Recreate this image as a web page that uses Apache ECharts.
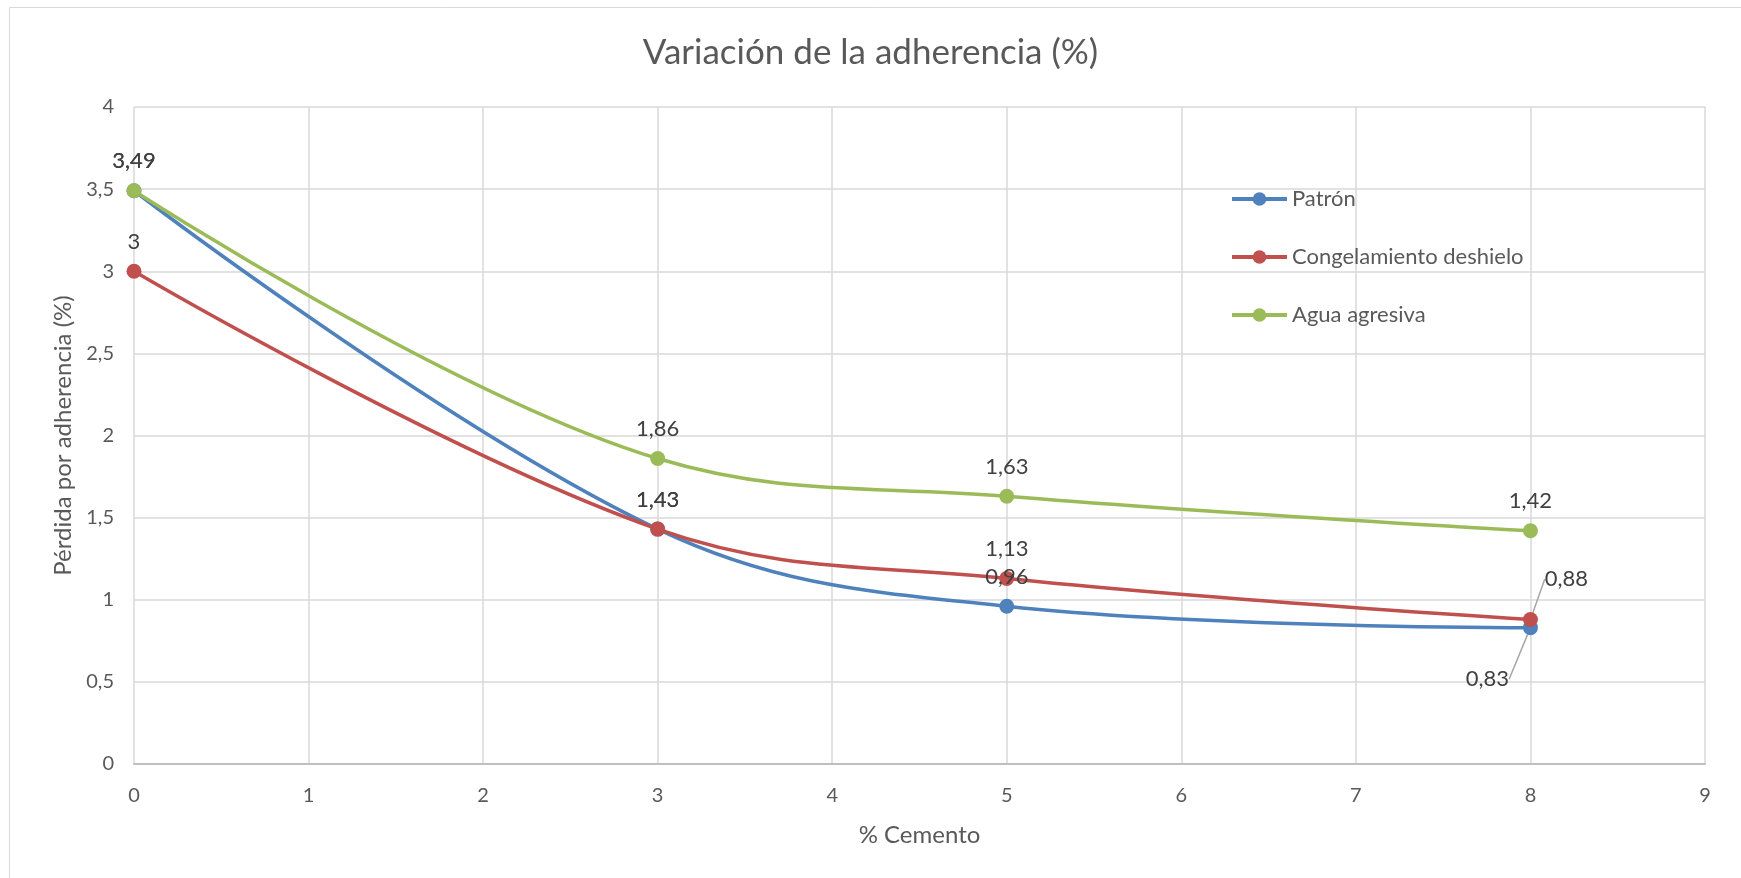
<!DOCTYPE html>
<html>
<head>
<meta charset="utf-8">
<script src="https://fastly.jsdelivr.net/npm/echarts@6/dist/echarts.min.js"></script>
<style>
  html, body { margin: 0; padding: 0; background: #fff; }
  #root { width: 1741px; height: 878px; }
</style>
</head>
<body>
<div id="root"></div>
<script>
// data
const cemento = [0, 3, 5, 8]
const patron = [3.49, 1.43, 0.96, 0.83]
const congelamiento = [3, 1.43, 1.13, 0.88]
const agua = [3.49, 1.86, 1.63, 1.42]
const seriesNames = ['Patrón', 'Congelamiento deshielo', 'Agua agresiva']
const colors = ['#4F81BD', '#C0504D', '#9BBB59']

const font = 'Lato, "Open Sans", sans-serif'
const comma = v => String(v).replace('.', ',')

function pairs (ys) {
  return cemento.map((x, i) => [x, ys[i]])
}

function makeSeries (name, ys, color, moveLabel) {
  return {
    name: name,
    type: 'line',
    smooth: 0.38,
    data: pairs(ys),
    symbol: 'circle',
    symbolSize: 15,
    lineStyle: { width: 3.5, color: color },
    itemStyle: { color: color },
    label: {
      show: true,
      position: 'top',
      distance: 11,
      fontFamily: font,
      fontSize: 22,
      color: '#404040',
      formatter: p => comma(p.value[1])
    },
    labelLine: { show: false, lineStyle: { color: '#A6A6A6', width: 1.5 } },
    labelLayout: moveLabel,
    emphasis: { disabled: true }
  }
}

var myChart = echarts.init(document.getElementById('root'))

const option = {
  animation: false,
  backgroundColor: '#fff',
  title: {
    text: 'Variación de la adherencia (%)',
    left: 'center',
    top: 30,
    textStyle: { fontFamily: font, fontSize: 35, fontWeight: 'normal', color: '#595959' }
  },
  legend: {
    orient: 'vertical',
    left: 1225,
    top: 183,
    itemGap: 36,
    itemWidth: 55,
    itemHeight: 17,
    textStyle: { fontFamily: font, fontSize: 22, color: '#595959' },
    lineStyle: { width: 4 },
    data: seriesNames
  },
  grid: { left: 134, right: 36, top: 107, bottom: 114 },
  xAxis: {
    type: 'value',
    min: 0,
    max: 9,
    interval: 1,
    name: '% Cemento',
    nameLocation: 'middle',
    nameGap: 59,
    nameTextStyle: { fontFamily: font, fontSize: 24, color: '#595959' },
    axisLine: { show: true, onZero: false, lineStyle: { color: '#BFBFBF', width: 2 } },
    axisTick: { show: false },
    axisLabel: { margin: 22, fontFamily: font, fontSize: 20, color: '#595959' },
    splitLine: { show: true, lineStyle: { color: '#D9D9D9', width: 1.5 } }
  },
  yAxis: {
    type: 'value',
    min: 0,
    max: 4,
    interval: 0.5,
    name: 'Pérdida por adherencia (%)',
    nameLocation: 'middle',
    nameGap: 59,
    nameTextStyle: { fontFamily: font, fontSize: 24, color: '#595959' },
    axisLine: { show: false },
    axisTick: { show: false },
    axisLabel: { margin: 20, fontFamily: font, fontSize: 20, color: '#595959', formatter: comma },
    splitLine: { show: true, lineStyle: { color: '#D9D9D9', width: 1.5 } }
  },
  graphic: [{
    type: 'rect',
    shape: { x: 9.5, y: 7.5, width: 1740, height: 880 },
    style: { fill: 'none', stroke: '#D9D9D9', lineWidth: 1 },
    silent: true
  }],
  series: [
    makeSeries(seriesNames[0], patron, colors[0], p => p.dataIndex === 3 ? { dx: -43, dy: 81 } : {}),
    makeSeries(seriesNames[1], congelamiento, colors[1], p => p.dataIndex === 3 ? { dx: 36, dy: -11 } : {}),
    makeSeries(seriesNames[2], agua, colors[2])
  ]
}

// leader lines only on the two labels that were moved at 8 %
option.series[0].data[3] = { value: option.series[0].data[3], labelLine: { show: true } }
option.series[1].data[3] = { value: option.series[1].data[3], labelLine: { show: true } }

myChart.setOption(option)
</script>
</body>
</html>
